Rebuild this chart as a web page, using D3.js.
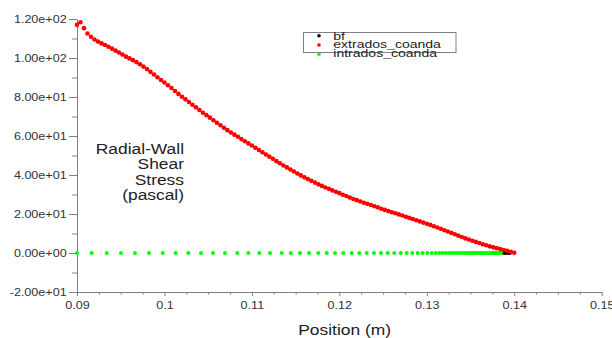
<!DOCTYPE html>
<html>
<head>
<meta charset="utf-8">
<script src="https://cdn.jsdelivr.net/npm/d3@7"></script>
<style>
  html, body { margin: 0; padding: 0; background: #fff; }
  svg { display: block; font-family: "Liberation Sans", Arial, sans-serif; }
</style>
</head>
<body>
<svg id="chart" width="612" height="338"></svg>
<script>
// Radial wall shear stress along the coanda surfaces
const xTickValues = [0.09, 0.10, 0.11, 0.12, 0.13, 0.14, 0.15];
const xTickLabels = ["0.09", "0.1", "0.11", "0.12", "0.13", "0.14", "0.15"];
const yTickValues = [120, 100, 80, 60, 40, 20, 0, -20];
const yTickLabels = ["1.20e+02", "1.00e+02", "8.00e+01", "6.00e+01", "4.00e+01", "2.00e+01", "0.00e+00", "-2.00e+01"];
const legendNames = ["bf", "extrados_coanda", "intrados_coanda"];
const yTitleLines = ["Radial-Wall", "Shear", "Stress", "(pascal)"];
const xTitle = "Position (m)";

// extrados_coanda: position (m) and shear stress (Pa)
const extradosX = [
  0.0900,0.0904,0.0908,0.0912,0.0916,0.0920,0.0924,0.0928,0.0932,0.0936,
  0.0940,0.0944,0.0948,0.0952,0.0956,0.0960,0.0964,0.0968,0.0972,0.0976,
  0.0980,0.0984,0.0988,0.0992,0.0996,0.1000,0.1004,0.1008,0.1012,0.1016,
  0.1020,0.1024,0.1028,0.1032,0.1036,0.1040,0.1044,0.1048,0.1052,0.1056,
  0.1060,0.1064,0.1068,0.1072,0.1076,0.1080,0.1084,0.1088,0.1092,0.1096,
  0.1100,0.1104,0.1108,0.1112,0.1116,0.1120,0.1124,0.1128,0.1132,0.1136,
  0.1140,0.1144,0.1148,0.1152,0.1156,0.1160,0.1164,0.1168,0.1172,0.1176,
  0.1180,0.1184,0.1188,0.1192,0.1196,0.1200,0.1204,0.1208,0.1212,0.1216,
  0.1220,0.1224,0.1228,0.1232,0.1236,0.1240,0.1244,0.1248,0.1252,0.1256,
  0.1260,0.1264,0.1268,0.1272,0.1276,0.1280,0.1284,0.1288,0.1292,0.1296,
  0.1300,0.1304,0.1308,0.1312,0.1316,0.1320,0.1324,0.1328,0.1332,0.1336,
  0.1340,0.1344,0.1348,0.1352,0.1356,0.1360,0.1364,0.1368,0.1372,0.1376,
  0.1380,0.1384,0.1388,0.1392,0.1396,0.1400
];
const extradosY = [
  117.0,118.3,115.3,112.6,110.9,109.5,108.4,107.5,106.7,105.8,
  104.8,103.8,102.8,101.8,100.7,99.8,98.9,97.9,96.8,95.6,
  94.3,92.9,91.5,90.1,88.7,87.4,86.0,84.6,83.1,81.6,
  80.1,78.8,77.4,76.0,74.7,73.3,71.9,70.7,69.4,68.1,
  66.8,65.5,64.2,63.0,61.8,60.7,59.6,58.4,57.3,56.2,
  55.1,54.0,52.8,51.7,50.5,49.4,48.3,47.1,46.0,44.9,
  43.9,42.8,41.8,40.8,39.8,38.8,37.9,37.0,36.1,35.2,
  34.4,33.6,32.9,32.1,31.4,30.7,29.9,29.2,28.4,27.7,
  27.1,26.4,25.8,25.2,24.6,24.0,23.4,22.7,22.1,21.5,
  20.9,20.4,19.8,19.2,18.6,18.0,17.4,16.8,16.2,15.6,
  15.0,14.4,13.7,13.1,12.4,11.7,11.0,10.3,9.6,8.9,
  8.2,7.5,6.9,6.3,5.7,5.1,4.5,4.0,3.4,2.9,
  2.5,2.0,1.5,1.1,0.6,0.1
];

// intrados_coanda: graded mesh positions, zero shear stress
const intradosX = [
  0.09000,0.09168,0.09340,0.09503,0.09663,0.09823,0.09980,0.10129,0.10273,0.10418,
  0.10555,0.10692,0.10833,0.10959,0.11085,0.11207,0.11341,0.11444,0.11550,0.11653,
  0.11759,0.11855,0.11950,0.12045,0.12141,0.12228,0.12313,0.12396,0.12476,0.12553,
  0.12628,0.12702,0.12770,0.12834,0.12896,0.12953,0.13006,0.13056,0.13102,0.13143,
  0.13182,0.13218,0.13253,0.13286,0.13318,0.13349,0.13379,0.13407,0.13435,0.13461,
  0.13486,0.13510,0.13533,0.13556,0.13577,0.13599,0.13620,0.13640,0.13661,0.13680,
  0.13700,0.13719,0.13738,0.13756,0.13774,0.13791,0.13809,0.13826,0.13843,0.13860,
  0.13877
];
const intradosY = intradosX.map(() => 0);

// bf: trailing-edge points
const bfX = [0.1389, 0.1392, 0.1395];
const bfY = [0, 0, 0];

const colors = { bf: "#000000", extrados_coanda: "#ff0000", intrados_coanda: "#00ff00" };
const axisColor = "#808080";
const textColor = "#333333";
const stretch = 1.2; // horizontal text stretch

const svg = d3.select("#chart");

const x = d3.scaleLinear().domain([0.09, 0.15]).range([77, 601.7]);
const y = d3.scaleLinear().domain([-20, 120]).range([292, 19]);

// y axis: major and minor ticks
const yMinor = [110, 90, 70, 50, 30, 10, -10];
svg.append("g")
  .attr("transform", `translate(${x(0.09)},0)`)
  .call(d3.axisLeft(y).tickValues(yMinor).tickSize(5).tickFormat(""))
  .call(g => g.select(".domain").remove())
  .call(g => g.selectAll("line").attr("stroke", axisColor));

const yAxis = svg.append("g")
  .attr("transform", `translate(${x(0.09)},0)`)
  .call(d3.axisLeft(y).tickValues(yTickValues).tickSize(8).tickSizeOuter(0)
    .tickFormat((d, i) => yTickLabels[i]));
yAxis.select(".domain").attr("stroke", axisColor);
yAxis.selectAll("line").attr("stroke", axisColor);
yAxis.selectAll("text")
  .attr("x", -10.3 / stretch)
  .attr("transform", `scale(${stretch},1)`)
  .attr("fill", textColor)
  .style("font-size", "10.5px");

// x axis: major and minor ticks
const xMinor = [];
for (let i = 0; i < xTickValues.length - 1; i++) {
  for (let j = 1; j < 4; j++) xMinor.push(xTickValues[i] + j * 0.0025);
}
svg.append("g")
  .attr("transform", `translate(0,${y(-20)})`)
  .call(d3.axisBottom(x).tickValues(xMinor).tickSize(2.5).tickFormat(""))
  .call(g => g.select(".domain").remove())
  .call(g => g.selectAll("line").attr("stroke", axisColor));

const xAxis = svg.append("g")
  .attr("transform", `translate(0,${y(-20)})`)
  .call(d3.axisBottom(x).tickValues(xTickValues).tickSize(4).tickSizeOuter(0)
    .tickFormat((d, i) => xTickLabels[i]));
xAxis.select(".domain").attr("stroke", axisColor);
xAxis.selectAll("line").attr("stroke", axisColor);
xAxis.selectAll("text")
  .attr("y", 14)
  .attr("dy", "0.32em")
  .attr("transform", `scale(${stretch},1)`)
  .attr("fill", textColor)
  .style("font-size", "10.5px");

// axis titles
svg.append("text")
  .attr("transform", `translate(${x(0.1206)},334.5) scale(${stretch},1)`)
  .attr("text-anchor", "middle")
  .attr("fill", "#1a1a1a")
  .style("font-size", "14.5px")
  .text(xTitle);

const yTitleBase = [153.5, 169, 184.5, 200];
svg.append("g").selectAll("text")
  .data(yTitleLines)
  .join("text")
  .attr("transform", (d, i) => `translate(184,${yTitleBase[i]}) scale(${stretch},1)`)
  .attr("text-anchor", "end")
  .attr("fill", "#222")
  .style("font-size", "14.5px")
  .text(d => d);

// series markers
function drawSeries(xs, ys, color, r) {
  svg.append("g").selectAll("circle")
    .data(xs.map((v, i) => [v, ys[i]]))
    .join("circle")
    .attr("cx", d => x(d[0]))
    .attr("cy", d => y(d[1]))
    .attr("r", r)
    .attr("fill", color);
}
drawSeries(intradosX, intradosY, colors.intrados_coanda, 2.0);
drawSeries(bfX, bfY, colors.bf, 2.1);
drawSeries(extradosX, extradosY, colors.extrados_coanda, 2.3);

// legend
const legend = svg.append("g");
legend.append("rect")
  .attr("x", 303.5).attr("y", 32.5)
  .attr("width", 152.5).attr("height", 20)
  .attr("fill", "none")
  .attr("stroke", axisColor);
const legendBase = [39.5, 48, 56.5];
const legendDot = [35.7, 45, 54.3];
legendNames.forEach((name, i) => {
  legend.append("circle")
    .attr("cx", 319).attr("cy", legendDot[i])
    .attr("r", 1.8).attr("fill", colors[name]);
  legend.append("text")
    .attr("transform", `translate(333.3,${legendBase[i]}) scale(${stretch},1)`)
    .attr("fill", "#222")
    .style("font-size", "11.7px")
    .text(name);
});
</script>
</body>
</html>
